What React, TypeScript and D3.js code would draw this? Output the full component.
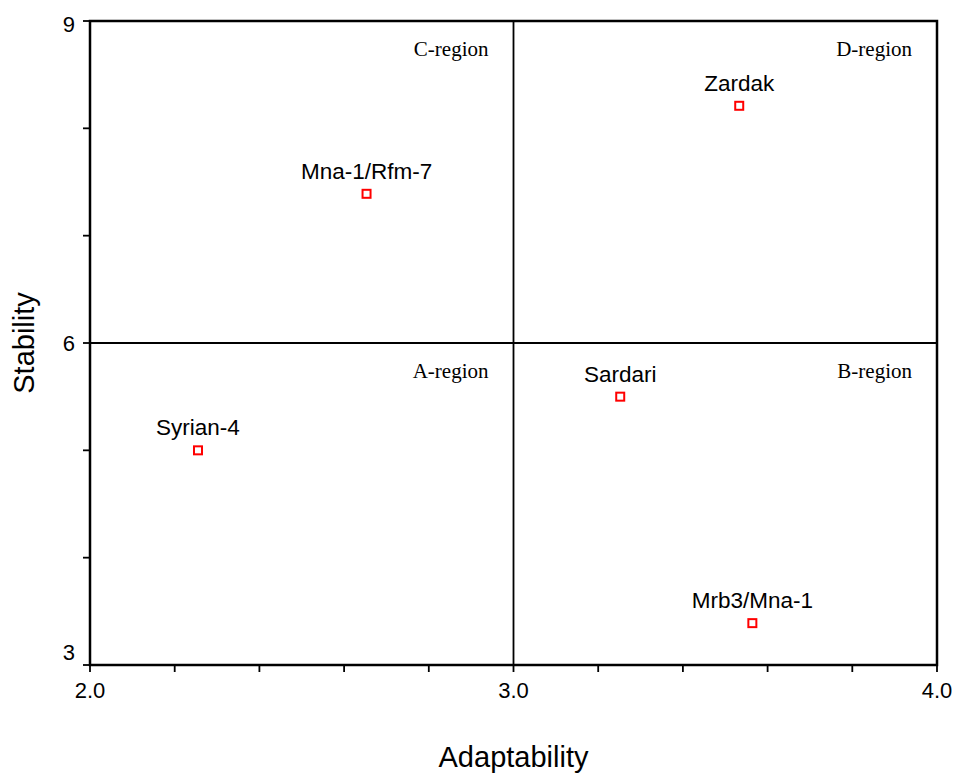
import React, { useEffect, useRef } from "react";
import * as d3 from "d3";

// Genotypes on the adaptability / stability plane
const genotypes = ["Syrian-4", "Mna-1/Rfm-7", "Zardak", "Sardari", "Mrb3/Mna-1"];
const adaptability = [2.255, 2.653, 3.533, 3.252, 3.564];
const stability = [5.0, 7.39, 8.21, 5.5, 3.39];

const regionNames = ["C-region", "D-region", "A-region", "B-region"];
const regionX = [3.0, 4.0, 3.0, 4.0];
const regionY = [9, 9, 6, 6];

const xMajor = [2.0, 3.0, 4.0];
const xMinor = [2.2, 2.4, 2.6, 2.8, 3.2, 3.4, 3.6, 3.8];
const yMajor = [3, 6, 9];
const yMinor = [4, 5, 7, 8];

const App = () => {
  const ref = useRef<SVGSVGElement>(null);

  useEffect(() => {
    const svg = d3.select(ref.current);
    svg.selectAll("*").remove();

    const width = 955;
    const height = 775;
    const left = 90;
    const right = 937;
    const top = 21;
    const bottom = 665;
    const sans = "Liberation Sans, Arial, sans-serif";

    const x = d3.scaleLinear().domain([2, 4]).range([left, right]);
    const y = d3.scaleLinear().domain([3, 9]).range([bottom, top]);

    svg.attr("width", width).attr("height", height);
    const g = svg.append("g");

    // frame
    g.append("rect")
      .attr("x", left)
      .attr("y", top)
      .attr("width", right - left)
      .attr("height", bottom - top)
      .attr("fill", "none")
      .attr("stroke", "#000")
      .attr("stroke-width", 2.5);

    // quadrant dividers
    g.append("line")
      .attr("x1", x(3)).attr("x2", x(3))
      .attr("y1", top).attr("y2", bottom)
      .attr("stroke", "#000").attr("stroke-width", 1.8);
    g.append("line")
      .attr("x1", left).attr("x2", right)
      .attr("y1", y(6)).attr("y2", y(6))
      .attr("stroke", "#000").attr("stroke-width", 1.8);

    // x ticks
    g.selectAll(".xt")
      .data([...xMajor, ...xMinor])
      .enter()
      .append("line")
      .attr("x1", (d) => x(d)).attr("x2", (d) => x(d))
      .attr("y1", bottom).attr("y2", bottom + 7)
      .attr("stroke", "#000").attr("stroke-width", 1.8);

    g.selectAll(".xl")
      .data(xMajor)
      .enter()
      .append("text")
      .attr("x", (d) => x(d))
      .attr("y", bottom + 33)
      .attr("text-anchor", "middle")
      .attr("font-family", sans)
      .attr("font-size", 22)
      .text((d) => d.toFixed(1));

    // y ticks
    g.selectAll(".yt")
      .data([...yMajor, ...yMinor])
      .enter()
      .append("line")
      .attr("x1", left - 7).attr("x2", left)
      .attr("y1", (d) => y(d)).attr("y2", (d) => y(d))
      .attr("stroke", "#000").attr("stroke-width", 1.8);

    const yLabelShift: Record<number, number> = { 3: -13, 6: 0, 9: 3 };
    g.selectAll(".yl")
      .data(yMajor)
      .enter()
      .append("text")
      .attr("x", left - 15)
      .attr("y", (d) => y(d) + yLabelShift[d])
      .attr("dy", "0.35em")
      .attr("text-anchor", "end")
      .attr("font-family", sans)
      .attr("font-size", 22)
      .text((d) => d);

    // axis titles
    svg.append("text")
      .attr("x", x(3))
      .attr("y", 767)
      .attr("text-anchor", "middle")
      .attr("font-family", sans)
      .attr("font-size", 29)
      .text("Adaptability");

    svg.append("text")
      .attr("transform", `translate(34, ${y(6)}) rotate(-90)`)
      .attr("text-anchor", "middle")
      .attr("font-family", sans)
      .attr("font-size", 29)
      .text("Stability");

    // region labels
    g.selectAll(".rl")
      .data(regionNames)
      .enter()
      .append("text")
      .attr("x", (d, i) => x(regionX[i]) - 25)
      .attr("y", (d, i) => y(regionY[i]) + 35)
      .attr("text-anchor", "end")
      .attr("font-family", "Liberation Serif, Times New Roman, serif")
      .attr("font-size", 21)
      .text((d) => d);

    // points
    g.selectAll(".pt")
      .data(genotypes)
      .enter()
      .append("rect")
      .attr("x", (d, i) => x(adaptability[i]) - 4)
      .attr("y", (d, i) => y(stability[i]) - 4)
      .attr("width", 8)
      .attr("height", 8)
      .attr("fill", "#fff")
      .attr("stroke", "#ff0000")
      .attr("stroke-width", 2);

    g.selectAll(".pl")
      .data(genotypes)
      .enter()
      .append("text")
      .attr("x", (d, i) => x(adaptability[i]))
      .attr("y", (d, i) => y(stability[i]) - 15)
      .attr("text-anchor", "middle")
      .attr("font-family", sans)
      .attr("font-size", 22.5)
      .text((d) => d);
  }, []);

  return <svg ref={ref} style={{ position: "absolute", left: 0, top: 0 }}></svg>;
};

export default App;
